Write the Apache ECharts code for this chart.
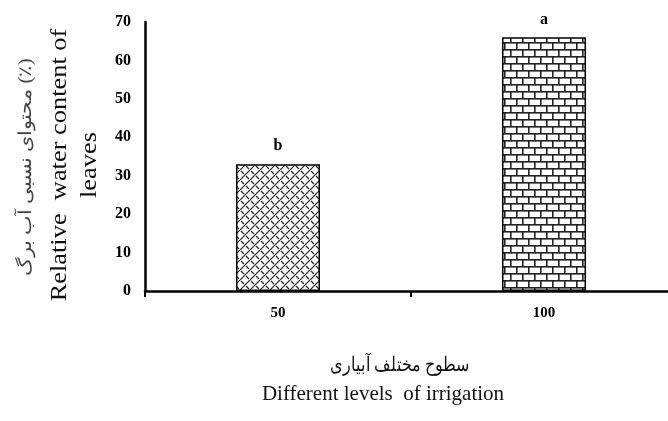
<!DOCTYPE html>
<html><head><meta charset="utf-8">
<script src="https://cdn.jsdelivr.net/npm/echarts@6/dist/echarts.min.js"></script>
<style>html,body{margin:0;padding:0;background:#fff}#c{width:668px;height:421px}</style>
</head><body><div id="c"></div>
<script>
const categories = ['50', '100'];
const values = [33, 66];
const letters = ['b', 'a'];
const yTicks = [0, 10, 20, 30, 40, 50, 60, 70];
const yTitleFa = 'محتوای نسبی آب برگ (٪)';
const yTitleEn = ['Relative  water content of', 'leaves'];
const xTitleFa = 'سطوح مختلف آبیاری';
const xTitleEn = 'Different levels  of irrigation';

function weave() {
  const s = 10;
  const c = document.createElement('canvas'); c.width = s; c.height = s;
  const g = c.getContext('2d');
  g.fillStyle = '#fff'; g.fillRect(0, 0, s, s);
  g.strokeStyle = '#222'; g.lineWidth = 1.2;
  g.beginPath();
  for (let k = -s; k <= 2 * s; k += s) { g.moveTo(k, s); g.lineTo(k + s, 0); }
  g.stroke();
  g.beginPath();
  g.moveTo(1, 1); g.lineTo(4, 4);
  g.moveTo(6, 6); g.lineTo(9, 9);
  g.stroke();
  return c;
}
function bricks() {
  const c = document.createElement('canvas'); c.width = 12; c.height = 14;
  const g = c.getContext('2d');
  g.fillStyle = '#fff'; g.fillRect(0, 0, 12, 14);
  g.fillStyle = '#222';
  g.fillRect(0, 0, 12, 1.6); g.fillRect(0, 7, 12, 1.6);
  g.fillRect(0, 0, 1.6, 7); g.fillRect(6, 7, 1.6, 7);
  return c;
}
const pats = [weave(), bricks()];

const chart = echarts.init(document.getElementById('c'));
const serif = '"Liberation Serif", "DejaVu Serif", serif';
chart.setOption({
  animation: false,
  grid: { left: 145, top: 22, width: 532, bottom: 130, containLabel: false, outerBoundsMode: 'none' },
  xAxis: {
    type: 'category', data: categories,
    axisLine: { lineStyle: { color: '#000', width: 2.5 } },
    axisTick: { show: true, length: 6, lineStyle: { color: '#000', width: 2 } },
    axisLabel: { margin: 15, color: '#000', fontFamily: serif, fontWeight: 'bold', fontSize: 15 }
  },
  yAxis: {
    type: 'value', min: 0, max: 70, interval: 10,
    splitLine: { show: false },
    axisLine: { show: true, lineStyle: { color: '#000', width: 2.5 } },
    axisTick: { show: false },
    axisLabel: { margin: 14, color: '#000', fontFamily: serif, fontWeight: 'bold', fontSize: 16,
      formatter: v => yTicks.includes(v) ? String(v) : '' }
  },
  graphic: [
    { type: 'text', x: 26, y: 167, rotation: Math.PI / 2, scaleX: 1.15,
      style: { text: yTitleFa, font: '18px ' + serif, fill: '#444', align: 'center', verticalAlign: 'middle' } },
    { type: 'text', x: 60, y: 165, rotation: Math.PI / 2, scaleX: 1.1,
      style: { text: yTitleEn[0], font: '24px ' + serif, fill: '#111', align: 'center', verticalAlign: 'middle' } },
    { type: 'text', x: 90, y: 165, rotation: Math.PI / 2, scaleX: 1.1,
      style: { text: yTitleEn[1], font: '24px ' + serif, fill: '#111', align: 'center', verticalAlign: 'middle' } },
    { type: 'text', x: 400, y: 366, scaleX: 0.8,
      style: { text: xTitleFa, font: '20px ' + serif, fill: '#111', align: 'center', verticalAlign: 'middle' } },
    { type: 'text', x: 383, y: 394,
      style: { text: xTitleEn, font: '21px ' + serif, fill: '#111', align: 'center', verticalAlign: 'middle' } }
  ],
  series: [{
    type: 'bar', barWidth: 84,
    data: values.map((v, i) => ({
      value: v,
      itemStyle: { color: { image: pats[i], repeat: 'repeat' }, borderColor: '#000', borderWidth: 1.5 },
      label: { show: true, position: 'top', distance: 10, formatter: letters[i],
        fontFamily: serif, fontWeight: 'bold', fontSize: 16, color: '#000' }
    }))
  }]
});
</script></body></html>
